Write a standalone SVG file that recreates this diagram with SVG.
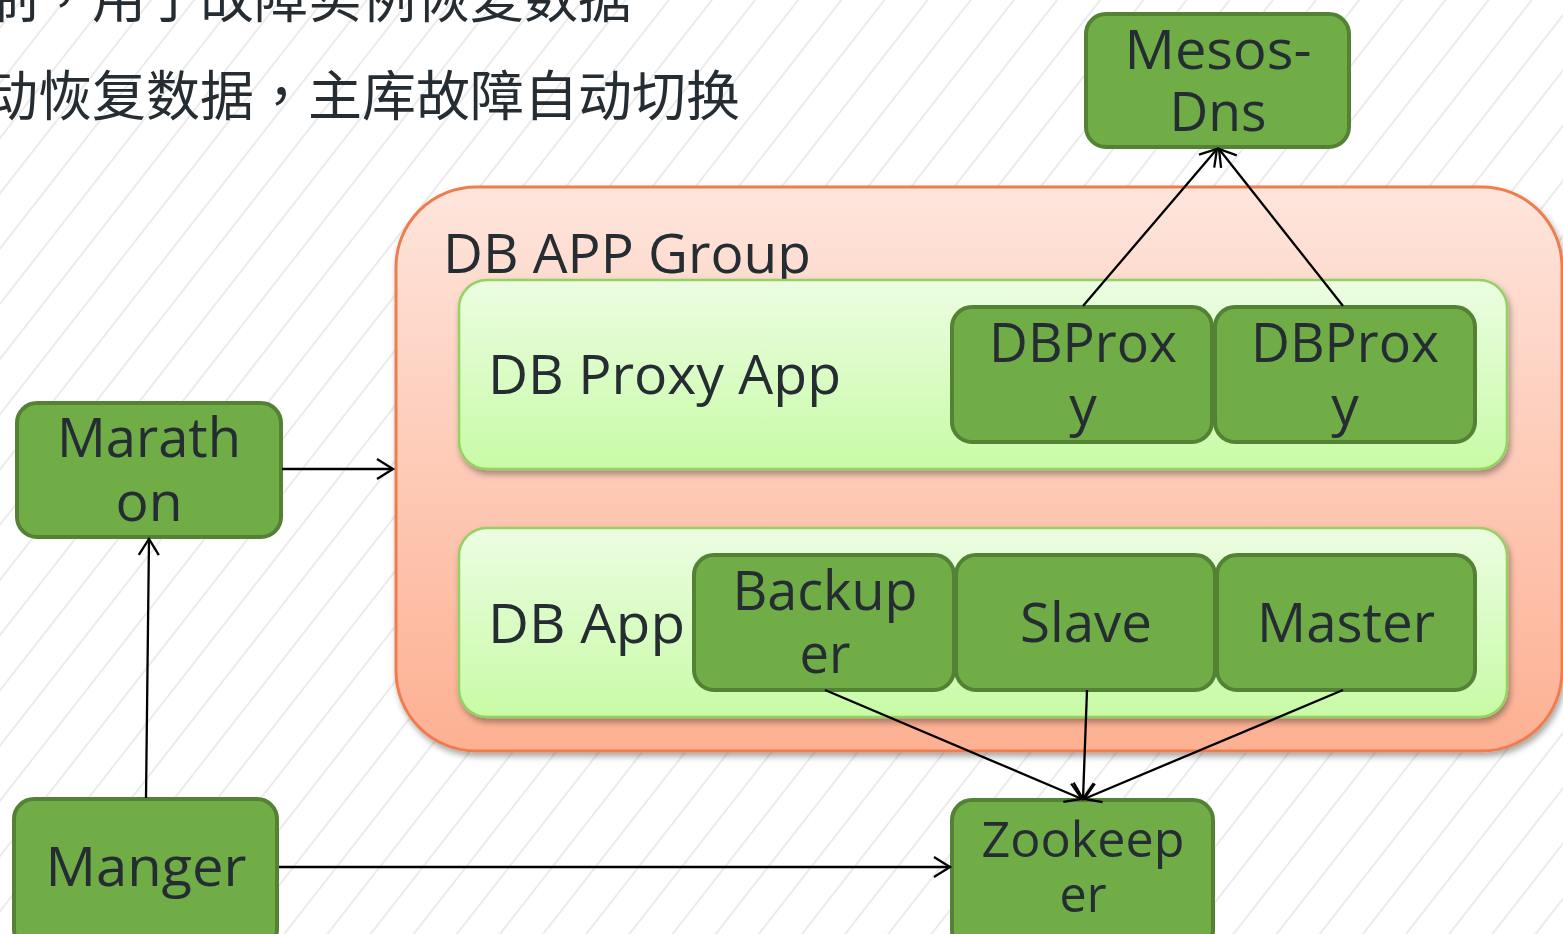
<svg xmlns="http://www.w3.org/2000/svg" width="1563" height="934" viewBox="0 0 1563 934">
<style>
.cn{font-family:"Noto Sans CJK SC","Noto Sans",sans-serif;font-size:54px;fill:#252d33}
.cm{font-family:"Noto Sans CJK TC","Noto Sans CJK SC",sans-serif}
.t{font-family:"Open Sans","Noto Sans","Liberation Sans",sans-serif;font-size:55px;fill:#252d33}
.m{text-anchor:middle}
.node{fill:#70ad47;stroke:#548235;stroke-width:4}
.panel{fill:url(#gGreen);stroke:#94d162;stroke-width:2.5;filter:url(#sh)}
.conn{stroke:#000;stroke-width:2.3;fill:none;marker-end:url(#arr)}
</style>
<defs>
<pattern id="hatch" patternUnits="userSpaceOnUse" width="34" height="20" patternTransform="rotate(38)">
<line x1="17" y1="-5" x2="17" y2="25" stroke="#ebebeb" stroke-width="2"/>
</pattern>
<linearGradient id="gOrange" x1="0" y1="0" x2="0" y2="1">
<stop offset="0" stop-color="#fee5dc"/>
<stop offset="1" stop-color="#fdb092"/>
</linearGradient>
<linearGradient id="gGreen" x1="0" y1="0" x2="0" y2="1">
<stop offset="0" stop-color="#ecfde2"/>
<stop offset="1" stop-color="#c8fba6"/>
</linearGradient>
<filter id="sh" x="-5%" y="-10%" width="110%" height="125%">
<feDropShadow dx="2" dy="4" stdDeviation="3" flood-color="#000" flood-opacity="0.35"/>
</filter>
<marker id="arr" markerUnits="userSpaceOnUse" viewBox="-20 -12 23 24" refX="0" refY="0" markerWidth="23" markerHeight="24" orient="auto">
<path d="M-16,-10 L0,0 L-16,10" fill="none" stroke="#000" stroke-width="2.3"/>
</marker>
</defs>
<rect width="1563" height="934" fill="#fff"/>
<rect width="1563" height="934" fill="url(#hatch)"/>
<g id="caption">
<text class="cn" x="-16" y="18">制<tspan class="cm">，</tspan>用于故障实例恢复数据</text>
<text class="cn" x="-16" y="116">动恢复数据<tspan class="cm">，</tspan>主库故障自动切换</text>
</g>
<g id="db-app-group">
<rect x="396" y="187" width="1166" height="564" rx="80" fill="url(#gOrange)" stroke="#ed7d4f" stroke-width="3" filter="url(#sh)"/>
<text class="t" x="443" y="273" textLength="368" lengthAdjust="spacingAndGlyphs">DB APP Group</text>
</g>
<g id="db-proxy-app">
<rect class="panel" x="459" y="280" width="1048" height="189" rx="28"/>
<text class="t" x="488" y="394" textLength="353" lengthAdjust="spacingAndGlyphs">DB Proxy App</text>
</g>
<g id="db-app">
<rect class="panel" x="459" y="528" width="1048" height="189" rx="28"/>
<text class="t" x="488" y="643" textLength="197" lengthAdjust="spacingAndGlyphs">DB App</text>
</g>
<g id="mesos-dns">
<rect class="node" x="1086" y="14" width="263" height="133" rx="20"/>
<text class="t m" x="1218" y="69" textLength="187" lengthAdjust="spacingAndGlyphs">Mesos-</text>
<text class="t m" x="1218" y="131" textLength="97" lengthAdjust="spacingAndGlyphs">Dns</text>
</g>
<g id="dbproxy-1">
<rect class="node" x="952" y="307" width="260" height="135" rx="20"/>
<text class="t m" x="1083" y="362" textLength="188" lengthAdjust="spacingAndGlyphs">DBProx</text>
<text class="t m" x="1083" y="425">y</text>
</g>
<g id="dbproxy-2">
<rect class="node" x="1215" y="307" width="260" height="135" rx="20"/>
<text class="t m" x="1345" y="362" textLength="188" lengthAdjust="spacingAndGlyphs">DBProx</text>
<text class="t m" x="1345" y="425">y</text>
</g>
<g id="marathon">
<rect class="node" x="17" y="403" width="264" height="134" rx="20"/>
<text class="t m" x="149" y="457" textLength="184" lengthAdjust="spacingAndGlyphs">Marath</text>
<text class="t m" x="149" y="521" textLength="67" lengthAdjust="spacingAndGlyphs">on</text>
</g>
<g id="backuper">
<rect class="node" x="694" y="555" width="260" height="135" rx="20"/>
<text class="t m" x="825" y="610" textLength="185" lengthAdjust="spacingAndGlyphs">Backup</text>
<text class="t m" x="825" y="673" textLength="51" lengthAdjust="spacingAndGlyphs">er</text>
</g>
<g id="slave">
<rect class="node" x="956" y="555" width="259" height="135" rx="20"/>
<text class="t m" x="1086" y="642" textLength="132" lengthAdjust="spacingAndGlyphs">Slave</text>
</g>
<g id="master">
<rect class="node" x="1217" y="555" width="258" height="135" rx="20"/>
<text class="t m" x="1346" y="642" textLength="178" lengthAdjust="spacingAndGlyphs">Master</text>
</g>
<g id="zookeeper">
<rect class="node" x="952" y="800" width="261" height="150" rx="20"/>
<text class="t m" x="1083" y="857" style="font-size:50px" textLength="203" lengthAdjust="spacingAndGlyphs">Zookeep</text>
<text class="t m" x="1083" y="912" style="font-size:50px" textLength="47" lengthAdjust="spacingAndGlyphs">er</text>
</g>
<g id="manger">
<rect class="node" x="14" y="799" width="263" height="150" rx="20"/>
<text class="t m" x="146" y="886" textLength="201" lengthAdjust="spacingAndGlyphs">Manger</text>
</g>
<g id="connectors">
<line class="conn" x1="282" y1="469" x2="393" y2="469"/>
<line class="conn" x1="146" y1="798" x2="149" y2="539"/>
<line class="conn" x1="279" y1="867" x2="950" y2="867"/>
<line class="conn" x1="1083" y1="306" x2="1217" y2="149"/>
<line class="conn" x1="1343" y1="306" x2="1219" y2="149"/>
<line class="conn" x1="825" y1="690" x2="1082" y2="799"/>
<line class="conn" x1="1087" y1="690" x2="1083" y2="799"/>
<line class="conn" x1="1343" y1="690" x2="1084" y2="799"/>
</g>
</svg>
